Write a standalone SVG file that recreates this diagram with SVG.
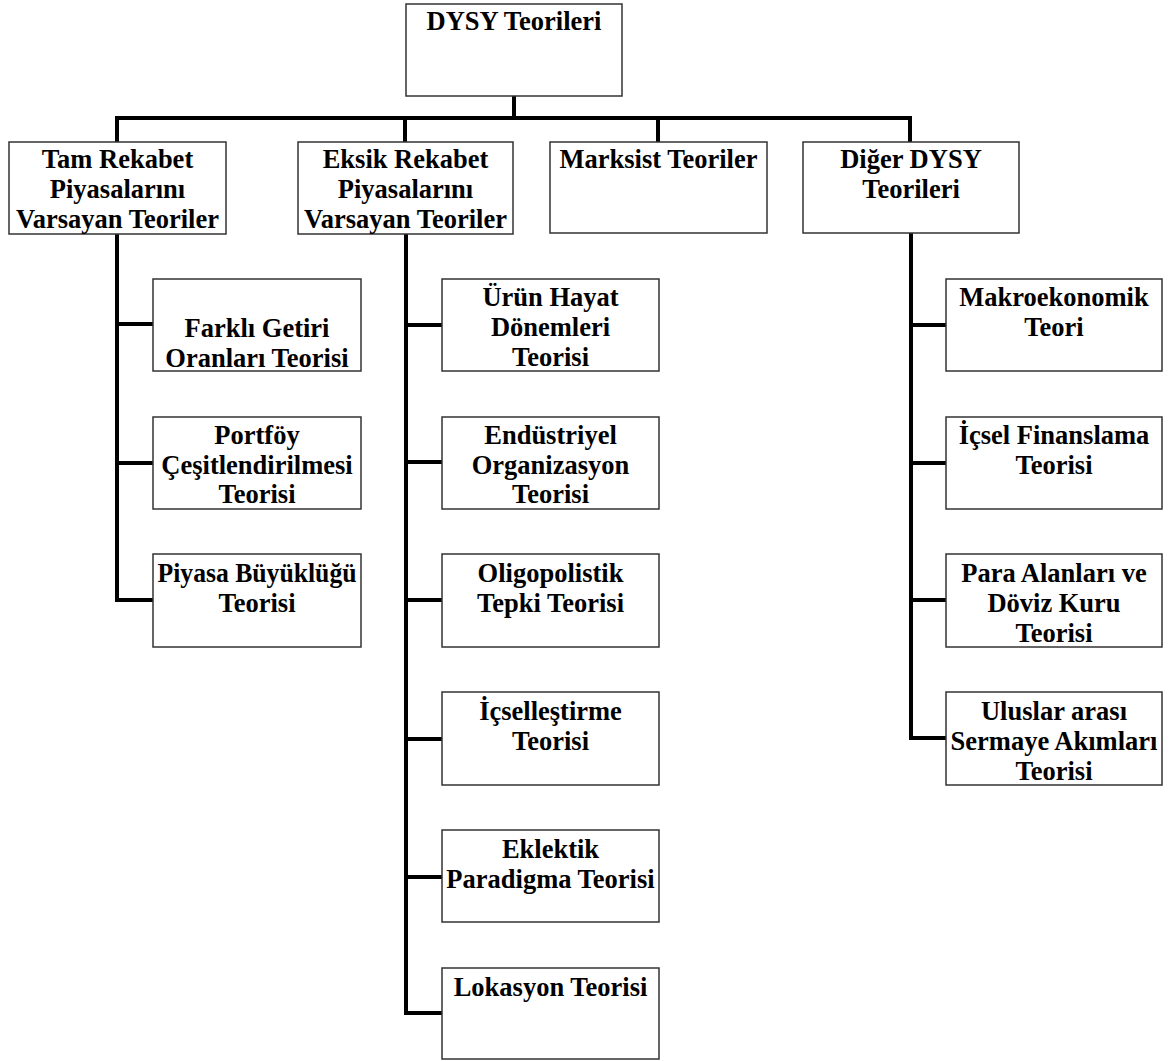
<svg xmlns="http://www.w3.org/2000/svg" width="1173" height="1061" viewBox="0 0 1173 1061">
<style>
.box{fill:#fff;stroke:#333;stroke-width:1.5}
.t{font-family:"Liberation Serif","Times New Roman",serif;font-weight:bold;font-size:26.5px;fill:#000;text-anchor:middle}
.c{fill:none;stroke:#000;stroke-width:4;stroke-linejoin:miter;stroke-linecap:butt}
</style>
<rect width="1173" height="1061" fill="#fff"/>
<g id="connectors">
<path class="c" d="M514 96 V118"/>
<path class="c" d="M117 142 V118 H910 V142"/>
<path class="c" d="M405 118 V142"/>
<path class="c" d="M658 118 V142"/>
<path class="c" d="M117 234 V600 H153"/>
<path class="c" d="M117 324 H153 M117 463 H153"/>
<path class="c" d="M406 234 V1013 H442"/>
<path class="c" d="M406 325 H442 M406 462 H442 M406 600 H442 M406 739 H442 M406 877 H442"/>
<path class="c" d="M911 233 V738 H946"/>
<path class="c" d="M911 325 H946 M911 463 H946 M911 600 H946"/>
</g>
<g id="root"><rect class="box" x="406" y="4" width="216" height="92"/><text class="t" x="514" y="30">DYSY Teorileri</text></g>
<g id="tam"><rect class="box" x="9" y="142" width="217" height="92"/><text class="t" x="117.5" y="168">Tam Rekabet</text><text class="t" x="117.5" y="198">Piyasalarını</text><text class="t" x="117.5" y="228">Varsayan Teoriler</text></g>
<g id="eksik"><rect class="box" x="298" y="142" width="215" height="92"/><text class="t" x="405.5" y="168">Eksik Rekabet</text><text class="t" x="405.5" y="198">Piyasalarını</text><text class="t" x="405.5" y="228">Varsayan Teoriler</text></g>
<g id="marksist"><rect class="box" x="550" y="142" width="217" height="91"/><text class="t" x="658.5" y="168">Marksist Teoriler</text></g>
<g id="diger"><rect class="box" x="803" y="142" width="216" height="91"/><text class="t" x="911" y="168">Diğer DYSY</text><text class="t" x="911" y="198">Teorileri</text></g>
<g id="farkli"><rect class="box" x="153" y="279" width="208" height="92"/><text class="t" x="257" y="337">Farklı Getiri</text><text class="t" x="257" y="367">Oranları Teorisi</text></g>
<g id="portfoy"><rect class="box" x="153" y="417" width="208" height="92"/><text class="t" x="257" y="444">Portföy</text><text class="t" x="257" y="474">Çeşitlendirilmesi</text><text class="t" x="257" y="503">Teorisi</text></g>
<g id="piyasa"><rect class="box" x="153" y="554" width="208" height="93"/><text class="t" x="257" y="582" textLength="199" lengthAdjust="spacingAndGlyphs">Piyasa Büyüklüğü</text><text class="t" x="257" y="612">Teorisi</text></g>
<g id="urun"><rect class="box" x="442" y="279" width="217" height="92"/><text class="t" x="550.5" y="306">Ürün Hayat</text><text class="t" x="550.5" y="336">Dönemleri</text><text class="t" x="550.5" y="366">Teorisi</text></g>
<g id="endustriyel"><rect class="box" x="442" y="417" width="217" height="92"/><text class="t" x="550.5" y="444">Endüstriyel</text><text class="t" x="550.5" y="474">Organizasyon</text><text class="t" x="550.5" y="503">Teorisi</text></g>
<g id="oligopolistik"><rect class="box" x="442" y="554" width="217" height="93"/><text class="t" x="550.5" y="582">Oligopolistik</text><text class="t" x="550.5" y="612">Tepki Teorisi</text></g>
<g id="icsellestirme"><rect class="box" x="442" y="692" width="217" height="93"/><text class="t" x="550.5" y="720">İçselleştirme</text><text class="t" x="550.5" y="750">Teorisi</text></g>
<g id="eklektik"><rect class="box" x="442" y="830" width="217" height="92"/><text class="t" x="550.5" y="858">Eklektik</text><text class="t" x="550.5" y="888">Paradigma Teorisi</text></g>
<g id="lokasyon"><rect class="box" x="442" y="968" width="217" height="91"/><text class="t" x="550.5" y="996">Lokasyon Teorisi</text></g>
<g id="makro"><rect class="box" x="946" y="279" width="216" height="92"/><text class="t" x="1054" y="306">Makroekonomik</text><text class="t" x="1054" y="336">Teori</text></g>
<g id="icsel"><rect class="box" x="946" y="417" width="216" height="92"/><text class="t" x="1054" y="444">İçsel Finanslama</text><text class="t" x="1054" y="474">Teorisi</text></g>
<g id="para"><rect class="box" x="946" y="554" width="216" height="93"/><text class="t" x="1054" y="582">Para Alanları ve</text><text class="t" x="1054" y="612">Döviz Kuru</text><text class="t" x="1054" y="642">Teorisi</text></g>
<g id="uluslar"><rect class="box" x="946" y="692" width="216" height="93"/><text class="t" x="1054" y="720">Uluslar arası</text><text class="t" x="1054" y="750">Sermaye Akımları</text><text class="t" x="1054" y="780">Teorisi</text></g>
</svg>
